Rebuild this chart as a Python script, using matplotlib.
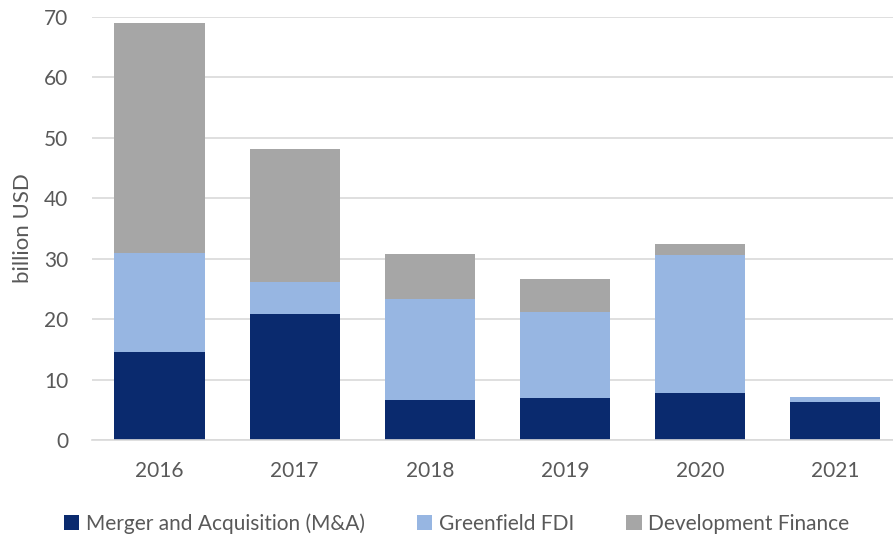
import matplotlib.pyplot as plt
import numpy as np

plt.rcParams['font.family'] = ['Lato', 'DejaVu Sans']

years = ['2016', '2017', '2018', '2019', '2020', '2021']
ma = [14.6, 20.8, 6.6, 6.9, 7.7, 6.3]
greenfield = [16.3, 5.3, 16.7, 14.2, 22.9, 0.8]
devfin = [38.0, 22.1, 7.5, 5.5, 1.8, 0.0]

fig = plt.figure(figsize=(8.93, 5.39), dpi=100)
ax = fig.add_axes([92 / 893, (539 - 440) / 539, 1 - 92 / 893, (440 - 16.7) / 539])

x = np.arange(len(years))
w = 0.667
ma_a = np.array(ma)
gf_a = np.array(greenfield)
ax.bar(x, ma, w, color='#0a2a6e', label='Merger and Acquisition (M&A)', zorder=2)
ax.bar(x, greenfield, w, bottom=ma_a, color='#97b6e2', label='Greenfield FDI', zorder=2)
ax.bar(x, devfin, w, bottom=ma_a + gf_a, color='#a6a6a6', label='Development Finance', zorder=2)

ax.set_ylim(0, 70)
ax.set_xlim(-0.5, 5.43)
ax.set_yticks(range(0, 71, 10))
ax.set_xticks(x)
ax.set_xticklabels(years)
ax.grid(axis='y', color='#d9d9d9', linewidth=1.2, zorder=0)
ax.set_axisbelow(True)
for s in ['top', 'right', 'left']:
    ax.spines[s].set_visible(False)
ax.spines['bottom'].set_color('#d9d9d9')
ax.spines['bottom'].set_linewidth(1.2)
ax.tick_params(length=0, labelsize=15, colors='#595959')
ax.tick_params(axis='y', pad=17)
ax.tick_params(axis='x', pad=15)
ax.set_ylabel('billion USD', fontsize=16, color='#595959')
ax.yaxis.set_label_coords((33 - 92) / (893 - 92), 0.5)

fig.legend(loc='lower center', bbox_to_anchor=(0.511, -0.025), ncol=3, frameon=False,
           fontsize=15, labelcolor='#595959', handlelength=0.75, handleheight=0.75,
           columnspacing=2.5, handletextpad=0.3)

fig.savefig('out.png', dpi=100)
